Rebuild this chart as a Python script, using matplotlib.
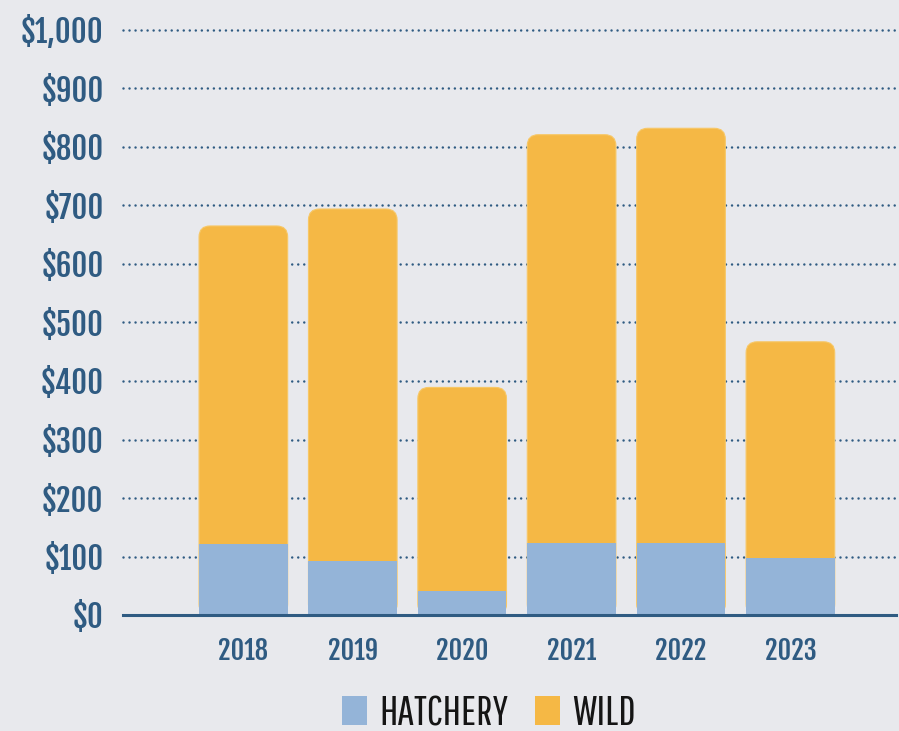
import matplotlib
matplotlib.use("Agg")
import matplotlib.pyplot as plt
from matplotlib.patches import FancyBboxPatch, Patch
from matplotlib.ticker import FuncFormatter
from matplotlib import font_manager as fm

years = ["2018", "2019", "2020", "2021", "2022", "2023"]
hatchery = [122, 92, 41, 123, 123, 98]
totals = [665, 694, 389, 821, 832, 467]
wild = [t - h for t, h in zip(totals, hatchery)]
yticks = [0, 100, 200, 300, 400, 500, 600, 700, 800, 900, 1000]
legend_labels = ["HATCHERY", "WILD"]

BG = "#e8e9ed"
TXT = "#2f5b82"
C_HATCH = "#94b4d8"
C_WILD = "#f5b845"

names = set(f.name for f in fm.fontManager.ttflist)
def pick(cands):
    for c in cands:
        if c in names:
            return c
    return "DejaVu Sans"

FONT_B = pick(["Fjalla One", "Oswald", "Barlow Condensed"])
FONT_L = pick(["Oswald Light", "Oswald ExtraLight", "Pathway Gothic One", "Oswald", "Barlow Condensed"])

fig = plt.figure(figsize=(8.99, 7.31), dpi=100, facecolor=BG)
ax = fig.add_axes([123/899, 1-615/731, (896-123)/899, (615-30)/731])
ax.set_facecolor(BG)

x = list(range(len(years)))
width = 0.81
ax.set_xlim(-1.10, 5.965)
ax.set_ylim(0, 1000)

wild_bars = ax.bar(x, totals, width=width, color=C_WILD, zorder=2)
fig.canvas.draw()
bbox = ax.get_window_extent()
px_per_x = bbox.width / (ax.get_xlim()[1] - ax.get_xlim()[0])
px_per_y = bbox.height / (ax.get_ylim()[1] - ax.get_ylim()[0])
r_px = 11
for rect in wild_bars:
    x0, y0, w, h = rect.get_x(), rect.get_y(), rect.get_width(), rect.get_height()
    rect.set_visible(False)
    p = FancyBboxPatch((x0, y0), w, h,
                       boxstyle=f"round,pad=0,rounding_size={r_px/px_per_x}",
                       mutation_aspect=px_per_x/px_per_y,
                       facecolor=C_WILD, edgecolor="#f7c766", linewidth=0.8, zorder=2)
    ax.add_patch(p)

ax.bar(x, hatchery, width=width, color=C_HATCH, zorder=3)

ax.set_yticks(yticks)
ax.yaxis.set_major_formatter(FuncFormatter(lambda v, p: f"${v:,.0f}"))
ax.set_xticks(x)
ax.set_xticklabels(years)

for s in ["top", "right", "left"]:
    ax.spines[s].set_visible(False)
ax.spines["bottom"].set_color(TXT)
ax.spines["bottom"].set_linewidth(2.2)
ax.spines["bottom"].set_zorder(4)

ax.tick_params(axis="both", length=0)
ax.tick_params(axis="y", pad=14)
ax.tick_params(axis="x", pad=15)
for lab in ax.get_yticklabels():
    lab.set_fontfamily([FONT_B, "DejaVu Sans"])
    lab.set_fontweight("bold")
    lab.set_fontsize(22)
    lab.set_color(TXT)
for lab in ax.get_xticklabels():
    lab.set_fontfamily([FONT_B, "DejaVu Sans"])
    lab.set_fontweight("bold")
    lab.set_fontsize(19)
    lab.set_color(TXT)

ax.yaxis.grid(True, color=TXT, linewidth=1.8, linestyle=(0, (0.01, 2.4)),
              dash_capstyle="round", zorder=1)
ax.set_axisbelow(True)
for gl in ax.yaxis.get_gridlines():
    gl.set_clip_on(False)

handles = [Patch(facecolor=C_HATCH, label=legend_labels[0]),
           Patch(facecolor=C_WILD, label=legend_labels[1])]
leg = fig.legend(handles=handles, loc="center", bbox_to_anchor=(489/899, 1-713/731),
                 ncol=2, frameon=False, handlelength=0.59, handleheight=0.68,
                 handletextpad=0.28, columnspacing=0.64,
                 prop={"family": [FONT_L, "DejaVu Sans"], "size": 30.5, "weight": 300})
for t in leg.get_texts():
    t.set_color("#151515")

fig.savefig("out.png", dpi=100, facecolor=BG)
